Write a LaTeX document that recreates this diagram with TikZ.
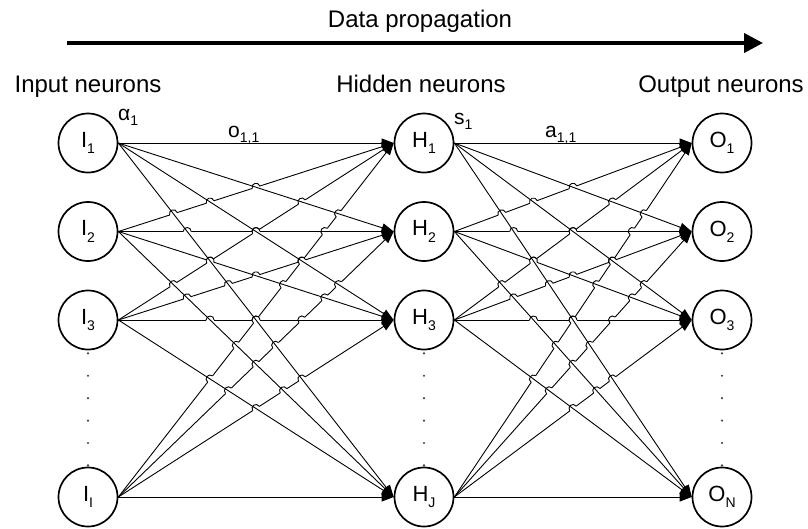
\documentclass[tikz,border=0pt]{standalone}
\usepackage{fontspec}
\setmainfont{Liberation Sans}
\usetikzlibrary{arrows.meta}
\newcommand\subtx[1]{\raisebox{-0.28em}{\fontsize{14}{14}\selectfont #1}}
\begin{document}
\begin{tikzpicture}[x=1pt,y=-1pt,
  neuron/.style={circle,draw,line width=1.7pt,minimum size=59pt,inner sep=0pt,font=\fontsize{22}{22}\selectfont},
  conn/.style={line width=0.9pt,-{Triangle[length=12pt,width=9pt]}},
  hopline/.style={line width=0.9pt},
  hdr/.style={font=\fontsize{24}{24}\selectfont,anchor=base,inner sep=0pt},
  lbl/.style={font=\fontsize{21}{21}\selectfont,anchor=base west,inner sep=0pt},
  dotline/.style={line width=2.4pt,line cap=round,dash pattern=on 0pt off 22.4pt,draw=black!75,shorten <=3pt},
  bigarrow/.style={line width=4pt,-{Triangle[length=19pt,width=19pt]}}
]
\useasboundingbox (0,0) rectangle (808,528);

% top arrow and headers
\coordinate (aS) at (67,43);
\coordinate (aE) at (763,43);
\draw[bigarrow] (aS) -- (aE);
\node[hdr] (tData) at (420,27) {Data propagation};
\node[hdr] (tIn) at (88,92) {Input neurons};
\node[hdr] (tHid) at (421,92) {Hidden neurons};
\node[hdr] (tOut) at (721,92) {Output neurons};

% neurons
\node[neuron] (I1) at (88,143) {I\subtx{1}};
\node[neuron] (I2) at (88,231.5) {I\subtx{2}};
\node[neuron] (I3) at (88,320) {I\subtx{3}};
\node[neuron] (I4) at (88,497) {I\subtx{I}};
\node[neuron] (H1) at (424,143) {H\subtx{1}};
\node[neuron] (H2) at (424,231.5) {H\subtx{2}};
\node[neuron] (H3) at (424,320) {H\subtx{3}};
\node[neuron] (H4) at (424,497) {H\subtx{J}};
\node[neuron] (O1) at (722,143) {O\subtx{1}};
\node[neuron] (O2) at (722,231.5) {O\subtx{2}};
\node[neuron] (O3) at (722,320) {O\subtx{3}};
\node[neuron] (O4) at (722,497) {O\subtx{N}};

% dots
\draw[dotline] (I3.south) -- (I4.north);
\draw[dotline] (H3.south) -- (H4.north);
\draw[dotline] (O3.south) -- (O4.north);

% connections with hop-overs (a later line hops over earlier ones)
\foreach \src/\dst/\xa/\xb in {I/H/118.35/393.65, H/O/454.35/691.65}{
  \foreach \i in {1,...,4}{
    \foreach \j in {1,...,4}{
      \pgfmathsetmacro\ya{{143,231.5,320,497}[\i-1]}
      \pgfmathsetmacro\yb{{143,231.5,320,497}[\j-1]}
      \pgfmathsetmacro\dx{\xb-\xa}
      \pgfmathsetmacro\dyv{\yb-\ya}
      \pgfmathsetmacro\lenv{veclen(\dx,\dyv)}
      \pgfmathsetmacro\ux{\dx/\lenv}
      \pgfmathsetmacro\uy{\dyv/\lenv}
      \gdef\clipcmds{}\gdef\hopcmds{}
      \foreach \p in {1,...,4}{
        \foreach \q in {1,...,4}{
          \pgfmathtruncatemacro\earlier{((\p<\i) || ((\p==\i) && (\q<\j))) ? 1 : 0}
          \ifnum\earlier=1
            \pgfmathsetmacro\yc{{143,231.5,320,497}[\p-1]}
            \pgfmathsetmacro\yd{{143,231.5,320,497}[\q-1]}
            \pgfmathsetmacro\den{(\yb-\ya)-(\yd-\yc)}
            \pgfmathtruncatemacro\ok{abs(\den)>0.001 ? 1 : 0}
            \ifnum\ok=1
              \pgfmathsetmacro\tpar{(\yc-\ya)/\den}
              \pgfmathtruncatemacro\ok{((\tpar>0.02) && (\tpar<0.94)) ? 1 : 0}
              \ifnum\ok=1
                \pgfmathsetmacro\px{\xa+\tpar*\dx}
                \pgfmathsetmacro\py{\ya+\tpar*\dyv}
                \pgfmathsetmacro\Ax{\px-4*\ux}
                \pgfmathsetmacro\Ay{\py-4*\uy}
                \pgfmathsetmacro\Bx{\px+4*\ux}
                \pgfmathsetmacro\By{\py+4*\uy}
                \pgfmathsetmacro\CAx{\Ax+5.3*\uy}
                \pgfmathsetmacro\CAy{\Ay-5.3*\ux}
                \pgfmathsetmacro\CBx{\Bx+5.3*\uy}
                \pgfmathsetmacro\CBy{\By-5.3*\ux}
                \xdef\clipcmds{\unexpanded\expandafter{\clipcmds}\noexpand\clip (-10,-10) rectangle (818,538) (\px,\py) circle[radius=4.2];}
                \xdef\hopcmds{\unexpanded\expandafter{\hopcmds} (\Ax,\Ay) .. controls (\CAx,\CAy) and (\CBx,\CBy) .. (\Bx,\By)}
              \fi
            \fi
          \fi
        }
      }
      \begin{scope}[even odd rule]
        \clipcmds
        \draw[conn] (\src\i.east) -- (\dst\j.west);
      \end{scope}
      \draw[hopline] \hopcmds;
    }
  }
}

% labels
\node[lbl] (la) at (118,120) {α\subtx{1}};
\node[lbl] (lo) at (228,137) {o\subtx{1,1}};
\node[lbl] (ls) at (454,124) {s\subtx{1}};
\node[lbl] (lA) at (545,137) {a\subtx{1,1}};
\end{tikzpicture}
\end{document}
